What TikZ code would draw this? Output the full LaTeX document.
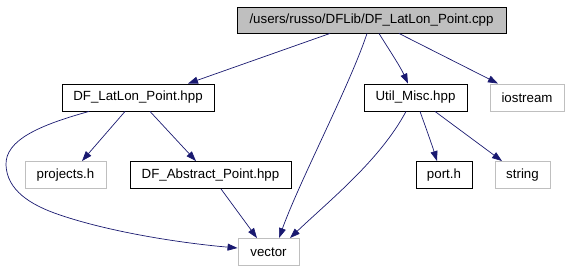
\documentclass[tikz,border=0pt]{standalone}
\usepackage{fontspec}
\setmainfont{Liberation Sans}
\usetikzlibrary{arrows.meta}
\definecolor{edgeblue}{HTML}{191970}
\definecolor{lightgray}{HTML}{BFBFBF}
\begin{document}
\begin{tikzpicture}[x=1pt,y=-1pt,
  file/.style={draw=black,line width=0.9pt,fill=white,inner sep=0pt,minimum height=27pt,
    font=\fontsize{13.3}{16}\selectfont},
  sysfile/.style={file,draw=lightgray},
  rootfile/.style={file,fill=lightgray,minimum height=26pt},
  dep/.style={draw=edgeblue,line width=0.7pt,-{Triangle[length=10pt,width=7pt]}}]
\useasboundingbox (0,0) rectangle (566,272);

% files
\node[rootfile,minimum width=269pt] (root) at (371.5,20) {/users/russo/DFLib/DF\_LatLon\_Point.cpp};
\node[file,minimum width=152pt] (latlon) at (138,97.5) {DF\_LatLon\_Point.hpp};
\node[file,minimum width=103pt] (util) at (415.5,97.5) {Util\_Misc.hpp};
\node[sysfile,minimum width=74pt] (iostream) at (527,97.5) {iostream};
\node[sysfile,minimum width=81pt] (projects) at (65.5,175) {projects.h};
\node[file,minimum width=161pt] (abstract) at (210.5,175) {DF\_Abstract\_Point.hpp};
\node[file,minimum width=56pt] (port) at (444,175) {port.h};
\node[sysfile,minimum width=55pt] (string) at (522.5,175) {string};
\node[sysfile,minimum width=61pt] (vector) at (268.5,252) {vector};

% include edges
\draw[dep] ([xshift=-41.5pt]root.south) -- ([xshift=50pt]latlon.north);
\draw[dep] ([xshift=-4.5pt]root.south) .. controls (350,85) and (300,180) .. ([xshift=10.5pt]vector.north);
\draw[dep] ([xshift=7.5pt]root.south) .. controls (388,48) and (400,66) .. ([xshift=-7.5pt]util.north);
\draw[dep] ([xshift=27.5pt]root.south) -- ([xshift=-29pt]iostream.north);

\draw[dep] ([xshift=-49pt]latlon.south) .. controls (40,125) and (5,140) .. (6,165)
  .. controls (7,190) and (30,205) .. (60,215)
  .. controls (110,232) and (180,243) .. ([yshift=4pt]vector.west);
\draw[dep] ([xshift=-13pt]latlon.south) -- ([xshift=16.5pt]projects.north);
\draw[dep] ([xshift=12pt]latlon.south) -- ([xshift=-14.5pt]abstract.north);

\draw[dep] ([xshift=10.5pt]abstract.south) -- ([xshift=-11.5pt]vector.north);

\draw[dep] ([xshift=-9.5pt]util.south) .. controls (380,160) and (330,200) .. ([xshift=21.5pt]vector.north);
\draw[dep] ([xshift=4.5pt]util.south) .. controls (426,128) and (432,145) .. ([xshift=-7pt]port.north);
\draw[dep] ([xshift=19.5pt]util.south) -- ([xshift=-20.5pt]string.north);
\end{tikzpicture}
\end{document}
